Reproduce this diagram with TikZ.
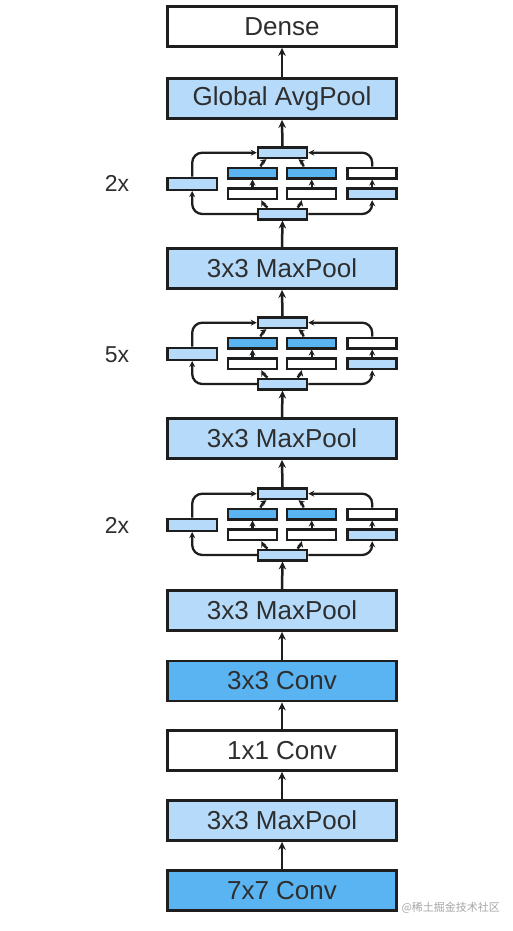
\documentclass[tikz,border=0pt]{standalone}
\usepackage{fontspec}
\setmainfont{Liberation Sans}
\newfontfamily\cjk{Noto Sans CJK SC}
\usetikzlibrary{arrows.meta}
\definecolor{lb}{HTML}{B5DAFA}
\definecolor{db}{HTML}{5BB4F2}
\definecolor{bd}{HTML}{1E1E1E}
\definecolor{tx}{HTML}{2E2E2E}
\tikzset{
  mainbox/.style={draw=bd, line width=2.8pt, minimum width=229pt, minimum height=40pt, inner sep=0pt, text=tx, font=\fontsize{26}{30}\selectfont},
  smallbox/.style={draw=bd, line width=2.5pt, minimum width=49pt, minimum height=10.5pt, inner sep=0pt},
  arr/.style={draw=bd, line width=2.5pt, -{Stealth[length=8pt,width=7.5pt]}},
  sarr/.style={draw=bd, line width=2.3pt, -{Stealth[length=6pt,width=6pt]}},
  lbl/.style={text=tx, font=\fontsize{23}{27}\selectfont}
}
\newcommand\incblock[2]{%
\begin{scope}[shift={(0,#2)}]
  \node[smallbox, fill=lb] (#1top) at (282.5,152.7) {};
  \node[smallbox, fill=db] (#1A1) at (252.5,173) {};
  \node[smallbox, fill=db] (#1B1) at (311.7,173) {};
  \node[smallbox, fill=white] (#1C1) at (372.2,173) {};
  \node[smallbox, fill=white] (#1A2) at (252.5,193.7) {};
  \node[smallbox, fill=white] (#1B2) at (311.7,193.7) {};
  \node[smallbox, fill=lb] (#1C2) at (372.2,193.7) {};
  \node[smallbox, fill=lb, minimum width=49.5pt, minimum height=12pt] (#1L) at (192.2,183.8) {};
  \node[smallbox, fill=lb] (#1bot) at (282.5,214) {};
\end{scope}
  \draw[sarr, rounded corners=10pt] (#1bot.west) -| (#1L.south);
  \draw[sarr, rounded corners=10pt] (#1L.north) |- (#1top.west);
  \draw[sarr, rounded corners=10pt] (#1bot.east) -| (#1C2.south);
  \draw[sarr] (#1C2.north) -- (#1C1.south);
  \draw[sarr, rounded corners=10pt] (#1C1.north) |- (#1top.east);
  \draw[sarr] (#1A2.north) -- (#1A1.south);
  \draw[sarr] (#1B2.north) -- (#1B1.south);
  \draw[sarr] ([xshift=-15pt]#1bot.north) to[bend left=15] ([xshift=9pt]#1A2.south);
  \draw[sarr] ([xshift=15pt]#1bot.north) to[bend right=15] ([xshift=-10pt]#1B2.south);
  \draw[sarr] ([xshift=8pt]#1A1.north) to[bend left=15] ([xshift=-16pt]#1top.south);
  \draw[sarr] ([xshift=-8pt]#1B1.north) to[bend right=15] ([xshift=16pt]#1top.south);
}
\begin{document}
\begin{tikzpicture}[x=1pt,y=-1pt]
\useasboundingbox[fill=white] (0,0) rectangle (513,931);
\node[mainbox, fill=white] (dense) at (282,26.5) {Dense};
\node[mainbox, fill=lb] (gap) at (282,98.5) {Global AvgPool};
\node[mainbox, fill=lb] (mp1) at (282,268.5) {3x3 MaxPool};
\node[mainbox, fill=lb] (mp2) at (282,438.5) {3x3 MaxPool};
\node[mainbox, fill=lb] (mp3) at (282,610.5) {3x3 MaxPool};
\node[mainbox, fill=db] (convb) at (282,681) {3x3 Conv};
\node[mainbox, fill=white] (conva) at (282,750.5) {1x1 Conv};
\node[mainbox, fill=lb] (mp4) at (282,820.5) {3x3 MaxPool};
\node[mainbox, fill=db] (convc) at (282,890.5) {7x7 Conv};
\incblock{ia}{0}
\incblock{ib}{170}
\incblock{ic}{341}
\node[lbl] (la) at (117,183.5) {2x};
\node[lbl] (lb2) at (117,354.5) {5x};
\node[lbl] (lc) at (117,525.5) {2x};
\draw[arr] (gap.north) -- (dense.south);
\draw[arr] (iatop.north) -- (gap.south);
\draw[arr] (mp1.north) -- (iabot.south);
\draw[arr] (ibtop.north) -- (mp1.south);
\draw[arr] (mp2.north) -- (ibbot.south);
\draw[arr] (ictop.north) -- (mp2.south);
\draw[arr] (mp3.north) -- (icbot.south);
\draw[arr] (convb.north) -- (mp3.south);
\draw[arr] (conva.north) -- (convb.south);
\draw[arr] (mp4.north) -- (conva.south);
\draw[arr] (convc.north) -- (mp4.south);
\node[text=black!35, font=\cjk\fontsize{11}{13}\selectfont, anchor=west] (wm) at (398,908) {@稀土掘金技术社区};
\end{tikzpicture}
\end{document}
